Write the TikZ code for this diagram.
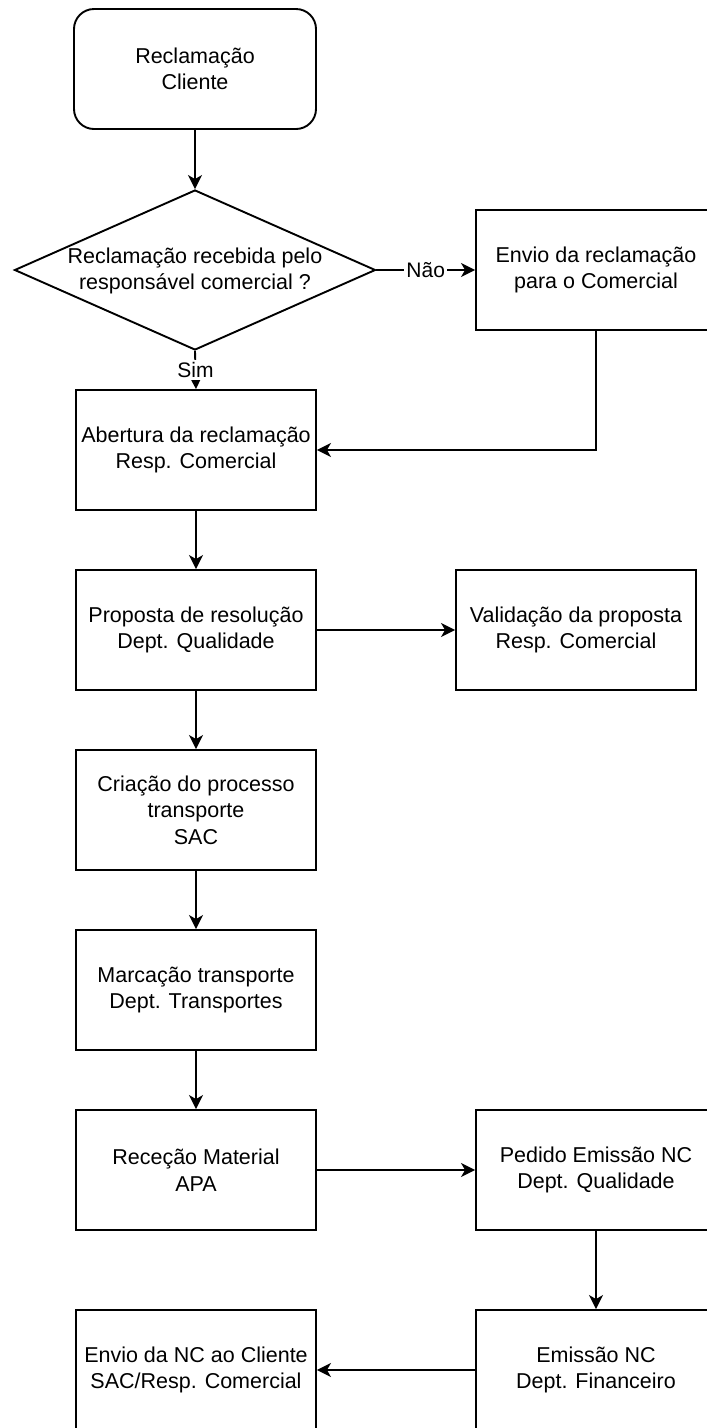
\documentclass[tikz,border=0pt]{standalone}
\usepackage{fontspec}
\setmainfont{Liberation Sans}
\usetikzlibrary{shapes.geometric,arrows.meta}
\tikzset{
  box/.style={draw=black, line width=1.9pt, minimum width=240pt, minimum height=120pt, inner sep=0pt, align=center, font=\fontsize{21.5}{26.5}\selectfont},
  rbox/.style={box, rounded corners=20pt, minimum width=242pt},
  dia/.style={draw=black, line width=1.9pt, diamond, aspect=2.256, minimum width=361pt, minimum height=160pt, inner sep=0pt},
  txt/.style={align=center, inner sep=0pt, font=\fontsize{21.5}{26.5}\selectfont},
  conn/.style={draw=black, line width=1.9pt, -{Stealth[length=14pt,width=14pt,inset=4pt]}},
  lbl/.style={fill=white, inner sep=2pt, font=\fontsize{21}{25}\selectfont}
}
\begin{document}
\begin{tikzpicture}[x=1pt,y=-1pt]
\clip (0,0) rectangle (707,1428);
\fill[white] (0,0) rectangle (707,1428);
\node[rbox] (rc) at (195,69) {Reclamação\\Cliente};
\node[dia] (d) at (195,270) {};
\node[txt] (dt) at (195,271) {Reclamação recebida pelo\\responsável comercial ?};
\node[box] (env) at (596,270) {Envio da reclamação\\para o Comercial};
\node[box] (ab) at (196,450) {Abertura da reclamação\\Resp. Comercial};
\node[box] (pr) at (196,630) {Proposta de resolução\\Dept. Qualidade};
\node[box] (va) at (576,630) {Validação da proposta\\Resp. Comercial};
\node[box] (cr) at (196,810) {Criação do processo\\transporte\\SAC};
\node[box] (ma) at (196,990) {Marcação transporte\\Dept. Transportes};
\node[box] (re) at (196,1170) {Receção Material\\APA};
\node[box] (pe) at (596,1170) {Pedido Emissão NC\\Dept. Qualidade};
\node[box] (em) at (596,1370) {Emissão NC\\Dept. Financeiro};
\node[box] (en) at (196,1370) {Envio da NC ao Cliente\\SAC/Resp. Comercial};

\draw[conn] (rc) -- (d);
\draw[conn] (d.east) -- node[lbl] {Não} (env.west);
\draw[conn] (d.south) -- node[lbl] {Sim} (ab.north);
\draw[conn] (env.south) |- (ab.east);
\draw[conn] (ab) -- (pr);
\draw[conn] (pr) -- (va);
\draw[conn] (pr) -- (cr);
\draw[conn] (cr) -- (ma);
\draw[conn] (ma) -- (re);
\draw[conn] (re) -- (pe);
\draw[conn] (pe) -- (em);
\draw[conn] (em) -- (en);
\end{tikzpicture}
\end{document}
